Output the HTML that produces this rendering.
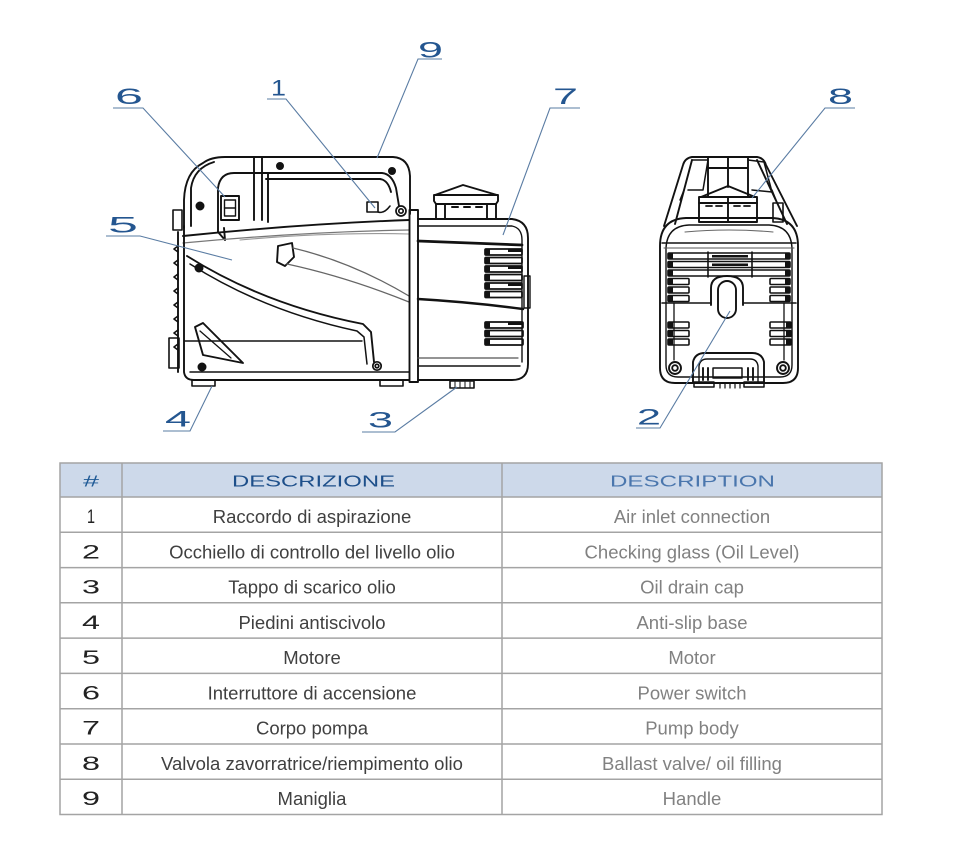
<!DOCTYPE html>
<html>
<head>
<meta charset="utf-8">
<style>
html,body{margin:0;padding:0;background:#fff;}
svg{display:block;}
</style>
</head>
<body>
<svg width="968" height="868" viewBox="0 0 968 868" xmlns="http://www.w3.org/2000/svg">
<rect width="968" height="868" fill="#fff"/>

<!-- ================= SIDE VIEW ================= -->
<g fill="none" stroke="#121212" stroke-width="1.9" stroke-linejoin="round" stroke-linecap="round">
  <!-- handle outer -->
  <path d="M184,228 L184,200 Q185,172 203,163 Q211,157 225,157 L393,157 Q409,158 410,176 L410,214"/>
  <path d="M191,226 L191,188 Q194,168 214,162"/>
  <!-- handle inner -->
  <path d="M218,232 L218,188 Q220,173 234,173 L382,173 Q392,174 396,188 L399,206"/>
  <path d="M266,179 L380,179 Q388,180 391,192"/>
  <!-- handle post verticals -->
  <path d="M254,158 L254,220 M262,158 L262,220 M268,173 L268,222"/>
  <!-- switch -->
  <rect x="221" y="196" width="18" height="24" stroke-width="1.9"/>
  <rect x="224.5" y="200" width="11" height="16" stroke-width="1.4"/>
  <path d="M224.5,208 L235.5,208" stroke-width="1.4"/>
  <path d="M218,232 L225,240 L224,228"/>
  <!-- air inlet -->
  <rect x="367" y="202" width="11" height="10" stroke-width="1.6"/>
  <path d="M378,212 Q384,214 390,206" stroke-width="1.5"/>
  <!-- left tab -->
  <rect x="173" y="210" width="9" height="20" stroke-width="1.6"/>
  <!-- body top band -->
  <path d="M183,236 Q300,224 409,220"/>
  <path d="M183,243 Q300,232 409,230" stroke="#777" stroke-width="1.3"/>
  <path d="M240,240 Q330,232 409,234" stroke="#999" stroke-width="1.1"/>
  <!-- left body edge -->
  <path d="M184,226 L184,372 Q185,380 194,380 L409,380"/>
  <path d="M178,232 L178,372"/>
  <path d="M178,246 l-4,3 l4,3 m0,8 l-4,3 l4,3 m0,8 l-4,3 l4,3 m0,8 l-4,3 l4,3 m0,8 l-4,3 l4,3 m0,8 l-4,3 l4,3 m0,8 l-4,3 l4,3 m0,8 l-4,3 l4,3" stroke-width="1.6"/>
  <rect x="169" y="338" width="10" height="30" stroke-width="1.6"/>
  <!-- bottom inner lines -->
  <path d="M184,341 L362,341" stroke-width="1.4"/>
  <path d="M190,372 L409,372" stroke-width="1.5"/>
  <!-- motor diagonal -->
  <path d="M187,256 Q265,305 363,324 L371,332 L374,362"/>
  <path d="M190,264 Q264,311 357,331 L364,337 L367,364" stroke-width="1.5"/>
  <!-- grip recess -->
  <path d="M278,246 L292,243 L294,257 L285,266 L277,262 Z"/>
  <path d="M293,248 Q352,262 409,296" stroke="#666" stroke-width="1.3"/>
  <path d="M287,264 Q347,277 409,302" stroke="#666" stroke-width="1.3"/>
  <!-- bottom-left triangle -->
  <path d="M195,327 L203,323 L243,363 L203,355 Z"/>
  <path d="M200,331 L231,358" stroke-width="1.3"/>
  <!-- strap -->
  <rect x="409.5" y="210" width="8.5" height="172"/>
  <!-- pump body -->
  <path d="M418,219 L512,219 Q528,221 528,238 L528,364 Q528,380 512,380 L418,380"/>
  <path d="M418,226 L512,226 Q522,228 522,240 L522,362" stroke-width="1.4"/>
  <path d="M418,241 L522,245" stroke-width="2.7"/>
  <path d="M418,299 Q470,302 523,309" stroke-width="2.5"/>
  <path d="M418,358 L518,358" stroke-width="1.2" stroke="#555"/>
  <path d="M418,366 L520,366" stroke-width="1.4"/>
  <rect x="524" y="276" width="6" height="32" stroke-width="1.4"/>
  <!-- vents -->
  <g stroke-width="1.7">
    <rect x="485" y="249" width="37" height="6" rx="1"/>
    <rect x="485" y="257.5" width="37" height="6" rx="1"/>
    <rect x="485" y="266" width="37" height="6" rx="1"/>
    <rect x="485" y="274.5" width="37" height="6" rx="1"/>
    <rect x="485" y="283" width="37" height="6" rx="1"/>
    <rect x="485" y="291.5" width="37" height="6" rx="1"/>
    <rect x="485" y="322" width="38" height="6" rx="1"/>
    <rect x="485" y="330.5" width="38" height="6" rx="1"/>
    <rect x="485" y="339" width="38" height="6" rx="1"/>
  </g>
  <g fill="#121212" stroke="none">
    <rect x="485" y="249" width="5" height="6"/><rect x="485" y="257.5" width="5" height="6"/>
    <rect x="485" y="266" width="5" height="6"/><rect x="485" y="274.5" width="5" height="6"/>
    <rect x="485" y="283" width="5" height="6"/><rect x="485" y="291.5" width="5" height="6"/>
    <rect x="485" y="322" width="5" height="6"/><rect x="485" y="330.5" width="5" height="6"/>
    <rect x="485" y="339" width="5" height="6"/>
    <rect x="508" y="249" width="14" height="3"/><rect x="508" y="266" width="14" height="3"/>
    <rect x="508" y="283" width="14" height="3"/><rect x="508" y="322" width="14" height="3"/>
  </g>
  <!-- oil cap -->
  <path d="M436,219 L436,204 L434,201 L434,195 L498,195 L498,201 L496,204 L496,219"/>
  <path d="M435,195 L463,185 L497,195"/>
  <path d="M445,204 L445,219 M487,204 L487,219 M436,204 L496,204"/>
  <path d="M452,207 L458,207 M464,207 L470,207 M476,207 L482,207" stroke-width="2"/>
  <!-- feet -->
  <rect x="192" y="380" width="23" height="6" stroke-width="1.6"/>
  <rect x="380" y="380" width="23" height="6" stroke-width="1.6"/>
  <rect x="450" y="381" width="24" height="7" stroke-width="1.6"/>
  <path d="M455,382 L455,388 M460,382 L460,388 M465,382 L465,388 M470,382 L470,388" stroke-width="1"/>
</g>
<!-- side view bolts -->
<g fill="#121212" stroke="#121212">
  <circle cx="200" cy="206" r="4"/>
  <circle cx="280" cy="166" r="3.5"/>
  <circle cx="392" cy="171" r="3.5"/>
  <circle cx="199" cy="268" r="4"/>
  <circle cx="202" cy="367" r="4"/>
</g>
<g fill="none" stroke="#121212" stroke-width="1.7">
  <circle cx="401" cy="211" r="5"/><circle cx="401" cy="211" r="2.2"/>
  <circle cx="377" cy="366" r="4.2"/><circle cx="377" cy="366" r="1.8"/>
</g>

<!-- ================= FRONT VIEW ================= -->
<g fill="none" stroke="#121212" stroke-width="1.9" stroke-linejoin="round" stroke-linecap="round">
  <!-- top part -->
  <path d="M664,226 L683,165 Q685,158 692,157 L757,157 Q764,158 766,165 L797,226"/>
  <path d="M675,224 L692,160 M787,224 L757,160"/>
  <path d="M708,157 L708,197 M748,157 L748,197 M728,157 L728,187 M708,168 L748,168"/>
  <path d="M692,160 L708,160 L703,190 L688,190" stroke-width="1.5"/>
  <path d="M748,160 L764,162 L772,192 L752,190" stroke-width="1.5"/>
  <path d="M680,200 L684,190 M776,200 L772,190" stroke-width="1.4"/>
  <!-- cap -->
  <rect x="699" y="197" width="58" height="25"/>
  <path d="M701,197 L728,186 L755,197"/>
  <path d="M728,197 L728,222 M699,203 L757,203"/>
  <path d="M706,206 L712,206 M716,206 L722,206 M734,206 L740,206 M744,206 L750,206" stroke-width="1.8"/>
  <rect x="773" y="203" width="10" height="19" stroke-width="1.6"/>
  <!-- main body -->
  <path d="M660,246 Q660,219 686,218 L772,218 Q798,219 798,246 L798,368 Q798,383 783,383 L675,383 Q660,383 660,368 Z"/>
  <path d="M666,248 Q667,226 689,225 L769,225 Q791,226 792,248 L792,365 Q792,377 780,377 L678,377 Q666,377 666,365 Z" stroke-width="1.4"/>
  <path d="M662,243 L796,243" stroke-width="1.5"/>
  <path d="M664,248 L794,248" stroke-width="1.1" stroke="#555"/>
  <path d="M685,232 Q729,228 773,232" stroke-width="1.1" stroke="#666"/>
  <!-- vents -->
  <g stroke-width="1.6">
    <rect x="668" y="253" width="122" height="6" rx="1"/>
    <rect x="668" y="261.5" width="122" height="6" rx="1"/>
    <rect x="668" y="270" width="122" height="6" rx="1"/>
    <rect x="668" y="278.5" width="21" height="6" rx="1"/>
    <rect x="668" y="287" width="21" height="6" rx="1"/>
    <rect x="668" y="295.5" width="21" height="6" rx="1"/>
    <rect x="770" y="278.5" width="20" height="6" rx="1"/>
    <rect x="770" y="287" width="20" height="6" rx="1"/>
    <rect x="770" y="295.5" width="20" height="6" rx="1"/>
    <path d="M708,252 L708,277 M752,252 L752,277"/>
    <rect x="668" y="322" width="21" height="6" rx="1"/>
    <rect x="668" y="330.5" width="21" height="6" rx="1"/>
    <rect x="668" y="339" width="21" height="6" rx="1"/>
    <rect x="770" y="322" width="21" height="6" rx="1"/>
    <rect x="770" y="330.5" width="21" height="6" rx="1"/>
    <rect x="770" y="339" width="21" height="6" rx="1"/>
  </g>
  <g fill="#121212" stroke="none">
    <rect x="668" y="253" width="5" height="6"/><rect x="668" y="261.5" width="5" height="6"/>
    <rect x="668" y="270" width="5" height="6"/><rect x="668" y="278.5" width="5" height="6"/>
    <rect x="668" y="287" width="5" height="6"/><rect x="668" y="295.5" width="5" height="6"/>
    <rect x="785" y="253" width="5" height="6"/><rect x="785" y="261.5" width="5" height="6"/>
    <rect x="785" y="270" width="5" height="6"/><rect x="785" y="278.5" width="5" height="6"/>
    <rect x="785" y="287" width="5" height="6"/><rect x="785" y="295.5" width="5" height="6"/>
    <rect x="668" y="322" width="5" height="6"/><rect x="668" y="330.5" width="5" height="6"/>
    <rect x="668" y="339" width="5" height="6"/>
    <rect x="786" y="322" width="5" height="6"/><rect x="786" y="330.5" width="5" height="6"/>
    <rect x="786" y="339" width="5" height="6"/>
    <rect x="712" y="255" width="36" height="2.5"/><rect x="712" y="263.5" width="36" height="2.5"/>
  </g>
  <!-- sight glass -->
  <path d="M711,305 L711,288 Q711,276 727,276 Q743,276 743,288 L743,305"/>
  <rect x="718" y="281" width="18" height="37" rx="9"/>
  <path d="M662,303 L711,303 M743,303 L796,303" stroke-width="1.6"/>
  <path d="M674,303 L674,360 M784,303 L784,360" stroke-width="1.3"/>
  <!-- bolts -->
  <circle cx="675" cy="368" r="6"/><circle cx="675" cy="368" r="2.8"/>
  <circle cx="783" cy="368" r="6"/><circle cx="783" cy="368" r="2.8"/>
  <!-- bottom bracket -->
  <path d="M693,382 L693,362 Q695,353 705,353 L752,353 Q762,353 764,362 L764,382"/>
  <path d="M699,382 L699,366 Q700,359 707,359 L750,359 Q757,359 758,366 L758,382" stroke-width="1.4"/>
  <rect x="713" y="368" width="29" height="10" stroke-width="1.5"/>
  <path d="M703,368 L703,380 M708,368 L708,380 M748,368 L748,380 M753,368 L753,380" stroke-width="1.9"/>
  <rect x="694" y="382" width="20" height="5" stroke-width="1.5"/>
  <rect x="744" y="382" width="20" height="5" stroke-width="1.5"/>
  <path d="M718,383 L740,383 M720,383 L720,388 M725,383 L725,388 M730,383 L730,388 M735,383 L735,388 M740,383 L740,388" stroke-width="1.2"/>
</g>

<!-- ================= CALLOUTS ================= -->
<g fill="none" stroke="#5a7ca3" stroke-width="1.1">
  <path d="M113,108 L143,108 L225,197"/>
  <path d="M267,99 L286,99 L375,208"/>
  <path d="M442,59 L418,59 L377,158"/>
  <path d="M106,236 L140,236 L232,260"/>
  <path d="M580,108 L550,108 L503,235"/>
  <path d="M855,108 L825,108 L752,198"/>
  <path d="M636,428 L660,428 L730,311"/>
  <path d="M163,431 L190,431 L212,386"/>
  <path d="M362,432 L395,432 L457,387"/>
</g>
<g font-family="Liberation Sans, sans-serif" font-size="22" fill="#245690">
  <text x="115" y="104" textLength="28" lengthAdjust="spacingAndGlyphs">6</text>
  <text x="271" y="95.5" textLength="15" lengthAdjust="spacingAndGlyphs">1</text>
  <text x="418" y="57.5" textLength="25" lengthAdjust="spacingAndGlyphs">9</text>
  <text x="108" y="232.5" textLength="30" lengthAdjust="spacingAndGlyphs">5</text>
  <text x="553" y="104" textLength="25" lengthAdjust="spacingAndGlyphs">7</text>
  <text x="828" y="104" textLength="25" lengthAdjust="spacingAndGlyphs">8</text>
  <text x="637" y="424.5" textLength="24" lengthAdjust="spacingAndGlyphs">2</text>
  <text x="165" y="426.5" textLength="26" lengthAdjust="spacingAndGlyphs">4</text>
  <text x="368" y="427.5" textLength="25" lengthAdjust="spacingAndGlyphs">3</text>
</g>

<!-- ================= TABLE ================= -->
<rect x="60" y="463" width="822" height="34" fill="#cdd9ea"/>
<g stroke="#a4a4a4" stroke-width="1.5" fill="none">
  <rect x="60" y="463" width="822" height="351.5"/>
  <path d="M60,497 H882 M60,532.3 H882 M60,567.6 H882 M60,602.8 H882 M60,638.1 H882 M60,673.4 H882 M60,708.7 H882 M60,744 H882 M60,779.2 H882"/>
  <path d="M122,463 V814.5 M502,463 V814.5"/>
</g>
<g font-family="Liberation Sans, sans-serif" font-size="15.5">
  <text x="91" y="486.5" text-anchor="middle" fill="#1f5a96" textLength="16" lengthAdjust="spacingAndGlyphs">#</text>
  <text x="232" y="486.5" fill="#1d4f8a" textLength="163" lengthAdjust="spacingAndGlyphs">DESCRIZIONE</text>
  <text x="610" y="486.5" fill="#4a76ad" textLength="165" lengthAdjust="spacingAndGlyphs">DESCRIPTION</text>
</g>
<g font-family="Liberation Sans, sans-serif" font-size="19" fill="#222" text-anchor="middle">
  <text x="91" y="523" textLength="8" lengthAdjust="spacingAndGlyphs">1</text>
  <text x="91" y="558.3" textLength="18" lengthAdjust="spacingAndGlyphs">2</text>
  <text x="91" y="593.6" textLength="18" lengthAdjust="spacingAndGlyphs">3</text>
  <text x="91" y="628.8" textLength="18" lengthAdjust="spacingAndGlyphs">4</text>
  <text x="91" y="664.1" textLength="18" lengthAdjust="spacingAndGlyphs">5</text>
  <text x="91" y="699.4" textLength="18" lengthAdjust="spacingAndGlyphs">6</text>
  <text x="91" y="734.7" textLength="18" lengthAdjust="spacingAndGlyphs">7</text>
  <text x="91" y="770" textLength="18" lengthAdjust="spacingAndGlyphs">8</text>
  <text x="91" y="805.2" textLength="18" lengthAdjust="spacingAndGlyphs">9</text>
</g>
<g font-family="Liberation Sans, sans-serif" font-size="18.5" fill="#404040" text-anchor="middle">
  <text x="312" y="523">Raccordo di aspirazione</text>
  <text x="312" y="558.3">Occhiello di controllo del livello olio</text>
  <text x="312" y="593.6">Tappo di scarico olio</text>
  <text x="312" y="628.8">Piedini antiscivolo</text>
  <text x="312" y="664.1">Motore</text>
  <text x="312" y="699.4">Interruttore di accensione</text>
  <text x="312" y="734.7">Corpo pompa</text>
  <text x="312" y="770">Valvola zavorratrice/riempimento olio</text>
  <text x="312" y="805.2">Maniglia</text>
</g>
<g font-family="Liberation Sans, sans-serif" font-size="18.5" fill="#818181" text-anchor="middle">
  <text x="692" y="523">Air inlet connection</text>
  <text x="692" y="558.3">Checking glass (Oil Level)</text>
  <text x="692" y="593.6">Oil drain cap</text>
  <text x="692" y="628.8">Anti-slip base</text>
  <text x="692" y="664.1">Motor</text>
  <text x="692" y="699.4">Power switch</text>
  <text x="692" y="734.7">Pump body</text>
  <text x="692" y="770">Ballast valve/ oil filling</text>
  <text x="692" y="805.2">Handle</text>
</g>
</svg>
</body>
</html>
